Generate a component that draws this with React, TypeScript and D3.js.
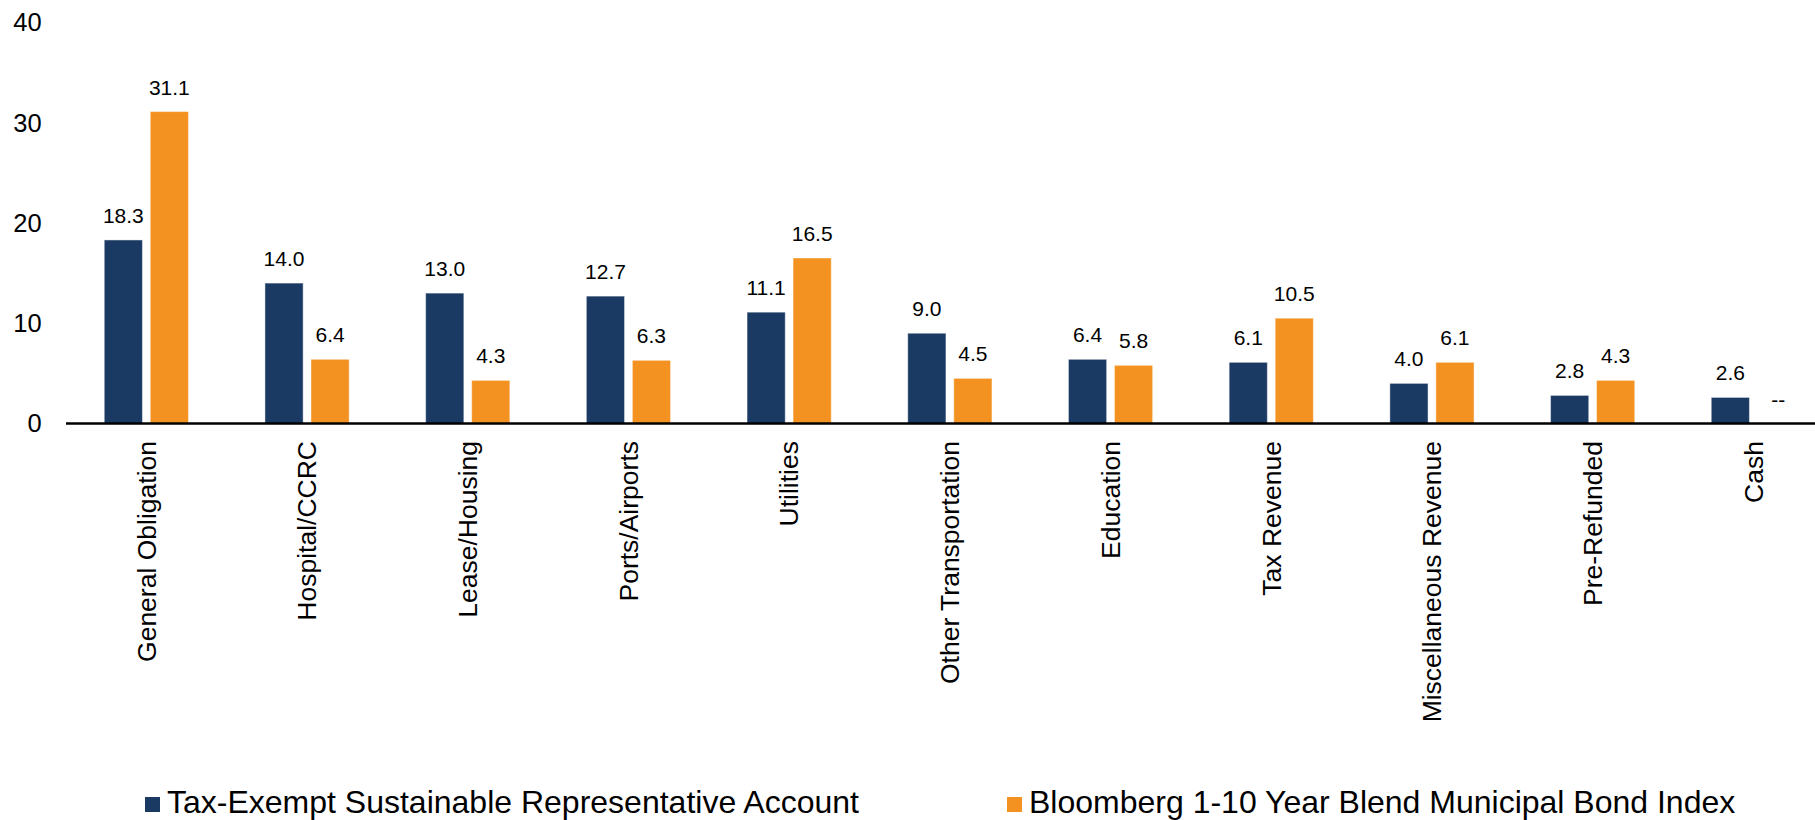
import React from "react";
import * as d3 from "d3";

const categories = [
  "General Obligation",
  "Hospital/CCRC",
  "Lease/Housing",
  "Ports/Airports",
  "Utilities",
  "Other Transportation",
  "Education",
  "Tax Revenue",
  "Miscellaneous Revenue",
  "Pre-Refunded",
  "Cash",
];
const accountValues: (number | null)[] = [18.3, 14.0, 13.0, 12.7, 11.1, 9.0, 6.4, 6.1, 4.0, 2.8, 2.6];
const benchmarkValues: (number | null)[] = [31.1, 6.4, 4.3, 6.3, 16.5, 4.5, 5.8, 10.5, 6.1, 4.3, null];
const seriesNames = [
  "Tax-Exempt Sustainable Representative Account",
  "Bloomberg 1-10 Year Blend Municipal Bond Index",
];
const seriesColors = ["#1B3A63", "#F39220"];
const yTicks = [0, 10, 20, 30, 40];

const W = 1815;
const H = 820;
const FONT = "'Liberation Sans', Arial, Helvetica, sans-serif";

export default function App() {
  const step = 160.7;
  const x0 = d3
    .scaleBand<string>()
    .domain(categories)
    .range([66, 66 + step * categories.length])
    .paddingInner(0.476)
    .paddingOuter(0.238);
  const x1 = d3
    .scaleBand<string>()
    .domain(seriesNames)
    .range([0, x0.bandwidth()])
    .paddingInner(0.17);
  const y = d3.scaleLinear().domain([0, 40]).range([423.5, 22.3]);
  const series = [accountValues, benchmarkValues];

  return (
    <svg
      width={W}
      height={H}
      style={{ position: "absolute", left: 0, top: 0, background: "#fff" }}
      fontFamily={FONT}
    >
      <rect x={0} y={0} width={W} height={H} fill="#fff" />
      {/* y tick labels */}
      {yTicks.map((t) => (
        <text
          key={t}
          x={41.7}
          y={y(t)}
          dy="0.35em"
          textAnchor="end"
          fontSize={25.5}
          fill="#000"
        >
          {t}
        </text>
      ))}
      {/* bars */}
      {categories.map((c, i) => (
        <g key={c} transform={`translate(${x0(c)},0)`}>
          {series.map((vals, s) => {
            const v = vals[i];
            const bx = x1(seriesNames[s])!;
            const bw = x1.bandwidth();
            if (v === null) {
              return (
                <text
                  key={s}
                  x={bx + bw / 2 + 2}
                  y={y(0) - 17}
                  textAnchor="middle"
                  fontSize={21}
                  fill="#000"
                >
                  --
                </text>
              );
            }
            return (
              <g key={s}>
                <rect
                  x={bx}
                  y={y(v)}
                  width={bw}
                  height={y(0) - y(v)}
                  fill={seriesColors[s]}
                  stroke="#ffffff"
                  strokeOpacity={0.45}
                  strokeWidth={1}
                />
                <text
                  x={bx + bw / 2}
                  y={y(v) - 17}
                  textAnchor="middle"
                  fontSize={21}
                  fill="#000"
                >
                  {v.toFixed(1)}
                </text>
              </g>
            );
          })}
        </g>
      ))}
      {/* x axis line */}
      <line x1={66} x2={W} y1={y(0)} y2={y(0)} stroke="#000" strokeWidth={2.5} />
      {/* category labels */}
      {categories.map((c) => {
        const cx = x0(c)! + x0.bandwidth() / 2;
        return (
          <text
            key={c}
            transform={`translate(${cx},441) rotate(-90)`}
            textAnchor="end"
            dy="0.35em"
            fontSize={26.5}
            fill="#000"
          >
            {c}
          </text>
        );
      })}
      {/* legend */}
      {seriesNames.map((n, s) => {
        const lx = s === 0 ? 145 : 1007;
        return (
          <g key={n}>
            <rect x={lx} y={797} width={15} height={15} fill={seriesColors[s]} />
            <text x={lx + 22} y={813} fontSize={32} fill="#000">
              {n}
            </text>
          </g>
        );
      })}
    </svg>
  );
}
